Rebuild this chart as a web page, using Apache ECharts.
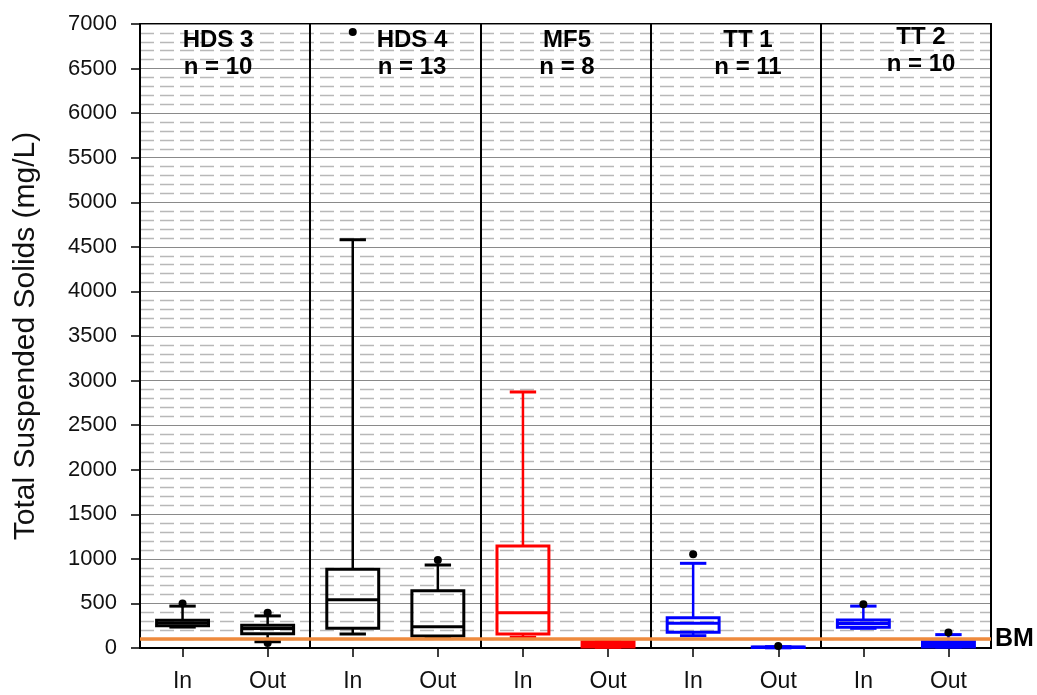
<!DOCTYPE html>
<html>
<head>
<meta charset="utf-8">
<script src="https://cdn.jsdelivr.net/npm/echarts@6/dist/echarts.min.js"></script>
<style>
html,body{margin:0;padding:0;background:#fff;}
#chart{width:1037px;height:695px;}
</style>
</head>
<body>
<div id="chart"></div>
<script>
// ---- data ----
var categories = ['In','Out','In','Out','In','Out','In','Out','In','Out'];
var groups = ['HDS 3','HDS 4','MF5','TT 1','TT 2'];
var nCounts = [10, 13, 8, 11, 10];
// five-number summaries per category
var lowWhisker  = [235,  70, 157, 127, 120,  8, 138,  2, 221,  10];
var q1Values    = [250, 160, 221, 135, 157, 10, 176,  5, 232,  12];
var medians     = [280, 220, 540, 239, 396, 40, 277,  8, 275,  40];
var q3Values    = [312, 255, 883, 643, 1144, 70, 340, 12, 314, 70];
var highWhisker = [470, 360, 4580, 931, 2872, 70, 950, 15, 470, 150];
// outliers: [categoryIndex, value]
var outliers = [[0,500],[1,395],[1,55],[2,6910],[3,987],[6,1051],[7,22],[8,490],[9,175]];
var bmValue = 100;
var yTicks = [0,500,1000,1500,2000,2500,3000,3500,4000,4500,5000,5500,6000,6500,7000];
var boxColors = ['#000000','#000000','#000000','#000000','#ff0000','#ff0000','#0000ff','#0000ff','#0000ff','#0000ff'];

var FONT = '"Liberation Sans", Arial, sans-serif';

var boxData = categories.map(function(c, i){
  return [i, lowWhisker[i], q1Values[i], medians[i], q3Values[i], highWhisker[i]];
});

var chart = echarts.init(document.getElementById('chart'), null, {renderer:'canvas'});

function renderBox(params, api){
  var x = api.value(0);
  var low = api.coord([x, api.value(1)]);
  var q1 = api.coord([x, api.value(2)]);
  var med = api.coord([x, api.value(3)]);
  var q3 = api.coord([x, api.value(4)]);
  var high = api.coord([x, api.value(5)]);
  var bw = api.size([1, 0])[0];
  var hw = bw * 0.305, cw = bw * 0.155;
  var cx = low[0];
  var color = boxColors[params.dataIndex];
  var ls = {stroke: color, lineWidth: 3, fill: null};
  return {
    type: 'group',
    children: [
      {type:'line', shape:{x1:cx, y1:q3[1], x2:cx, y2:high[1]}, style:{stroke:color, lineWidth:2.5}},
      {type:'line', shape:{x1:cx, y1:q1[1], x2:cx, y2:low[1]}, style:{stroke:color, lineWidth:2.5}},
      {type:'line', shape:{x1:cx-cw, y1:high[1], x2:cx+cw, y2:high[1]}, style:ls},
      {type:'line', shape:{x1:cx-cw, y1:low[1], x2:cx+cw, y2:low[1]}, style:ls},
      {type:'rect', shape:{x:cx-hw, y:q3[1], width:2*hw, height:q1[1]-q3[1]}, style:{stroke:color, lineWidth:3, fill:'rgba(0,0,0,0)'}},
      {type:'line', shape:{x1:cx-hw, y1:med[1], x2:cx+hw, y2:med[1]}, style:ls}
    ]
  };
}

var titleX = [218, 412, 567, 748, 921];
var titleY = [40, 40, 40, 40, 37];
var graphics = [];
groups.forEach(function(g, i){
  graphics.push({type:'text', x:titleX[i], y:titleY[i], style:{text:g, font:'bold 24px ' + FONT, fill:'#000', textAlign:'center', textVerticalAlign:'middle'}, z:100});
  graphics.push({type:'text', x:titleX[i], y:titleY[i]+27, style:{text:'n = ' + nCounts[i], font:'bold 24px ' + FONT, fill:'#000', textAlign:'center', textVerticalAlign:'middle'}, z:100});
});

var option = {
  animation: false,
  backgroundColor: '#ffffff',
  grid: {left:140, right:46, top:24, bottom:47, show:true, borderColor:'#000', borderWidth:2, backgroundColor:'transparent'},
  xAxis: {
    type: 'category',
    data: categories,
    boundaryGap: true,
    axisLine: {show:true, lineStyle:{color:'#000', width:2}},
    axisTick: {show:true, alignWithLabel:true, length:9, lineStyle:{color:'#000', width:1.5}},
    axisLabel: {fontSize:23, color:'#111', margin:22, fontFamily:FONT},
    splitLine: {show:true, interval:1, lineStyle:{color:'#000', width:2}}
  },
  yAxis: {
    type: 'value',
    min: yTicks[0], max: yTicks[yTicks.length-1], interval: 500,
    name: 'Total Suspended Solids (mg/L)',
    nameLocation: 'middle',
    nameGap: 99,
    nameTextStyle: {fontSize:30, color:'#111', fontFamily:FONT},
    axisLine: {show:true, lineStyle:{color:'#000', width:2}},
    axisTick: {show:true, length:9, lineStyle:{color:'#000', width:1.5}},
    axisLabel: {fontSize:22, color:'#111', margin:23, fontFamily:FONT, formatter: function(v){ return String(v); }},
    splitLine: {show:true, lineStyle:{color:'#8a8a8a', width:1.2}},
    minorTick: {show:false, splitNumber:5},
    minorSplitLine: {show:true, lineStyle:{color:'#b8b8b8', width:1.3, type:[14,6]}}
  },
  graphic: graphics,
  series: [
    {
      type: 'custom',
      name: 'boxes',
      renderItem: renderBox,
      data: boxData,
      encode: {x:0, y:[1,2,3,4,5]},
      z: 3
    },
    {
      type: 'scatter',
      name: 'outliers',
      data: outliers,
      symbol: 'circle',
      symbolSize: 8,
      itemStyle: {color:'#000', opacity:1},
      z: 4,
      markLine: {
        silent: true,
        symbol: 'none',
        data: [{yAxis: bmValue}],
        lineStyle: {color:'#EE8A3C', width:3.5, type:'solid'},
        label: {show:true, formatter:'BM', position:'end', distance:4, fontSize:25, fontWeight:'bold', color:'#000', fontFamily:FONT}
      }
    }
  ]
};
chart.setOption(option);
</script>
</body>
</html>
